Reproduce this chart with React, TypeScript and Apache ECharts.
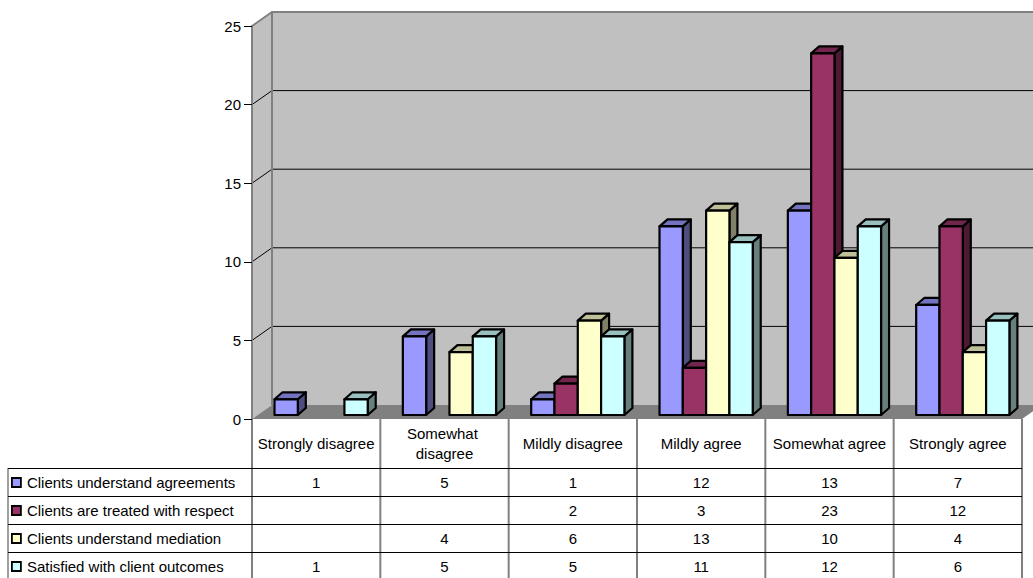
import React, { useEffect, useRef } from 'react';
import * as echarts from 'echarts';

const categories = ['Strongly disagree', 'Somewhat disagree', 'Mildly disagree', 'Mildly agree', 'Somewhat agree', 'Strongly agree'];
const seriesNames = ['Clients understand agreements', 'Clients are treated with respect', 'Clients understand mediation', 'Satisfied with client outcomes'];
const agreements = [1, 5, 1, 12, 13, 7];
const respect = [null, null, 2, 3, 23, 12];
const mediation = [null, 4, 6, 13, 10, 4];
const outcomes = [1, 5, 5, 11, 12, 6];
const seriesValues = [agreements, respect, mediation, outcomes];
const yTicks = [0, 5, 10, 15, 20, 25];
const colors = ['#9999FF', '#993366', '#FFFFCC', '#CCFFFF'];

const FONT = '"Liberation Sans", Arial, sans-serif';
const WALL_DX = 20;
const WALL_DY = -14;
const BAR_DX = 8;
const BAR_DY = -7;
const BAR_SHIFT_Y = -4;
const HEADER_H = 49;
const ROW_H = 28;
const TABLE_LEFT = 8;

function shade(hex: string, k: number) {
  const n = parseInt(hex.slice(1), 16);
  const r = Math.round(((n >> 16) & 255) * k);
  const g = Math.round(((n >> 8) & 255) * k);
  const b = Math.round((n & 255) * k);
  return `rgb(${r},${g},${b})`;
}

export default function App() {
  const ref = useRef<HTMLDivElement>(null);
  useEffect(() => {
    document.body.style.margin = '0';
    const chart = echarts.init(ref.current!, undefined, { renderer: 'svg' });

    const wallsSeries: any = {
      type: 'custom',
      name: '__walls',
      z: 0,
      silent: true,
      data: [[0, 0]],
      renderItem: (params: any, api: any) => {
        const cs = params.coordSys;
        const L = cs.x, T = cs.y, R = cs.x + cs.width, B = cs.y + cs.height;
        const children: any[] = [];
        children.push({ type: 'rect', shape: { x: L + WALL_DX, y: T + WALL_DY, width: cs.width + 40, height: cs.height }, style: { fill: '#C0C0C0' } });
        children.push({ type: 'polygon', shape: { points: [[L, B], [L, T], [L + WALL_DX, T + WALL_DY], [L + WALL_DX, B + WALL_DY]] }, style: { fill: '#C0C0C0' } });
        children.push({ type: 'polygon', shape: { points: [[L, B], [R, B], [R + WALL_DX, B + WALL_DY], [L + WALL_DX, B + WALL_DY]] }, style: { fill: '#808080' } });
        yTicks.forEach((v) => {
          if (v === 0 || v === yTicks[yTicks.length - 1]) return;
          const y = api.coord([0, v])[1];
          children.push({ type: 'line', shape: { x1: L, y1: y, x2: L + WALL_DX, y2: y + WALL_DY }, style: { stroke: '#000', lineWidth: 1 } });
          children.push({ type: 'line', shape: { x1: L + WALL_DX, y1: y + WALL_DY, x2: R + 60, y2: y + WALL_DY }, style: { stroke: '#000', lineWidth: 1 } });
        });
        children.push({ type: 'line', shape: { x1: L + WALL_DX, y1: T + WALL_DY, x2: L + WALL_DX, y2: B + WALL_DY }, style: { stroke: '#808080', lineWidth: 2 } });
        children.push({ type: 'polyline', shape: { points: [[L, T], [L + WALL_DX, T + WALL_DY], [R + 60, T + WALL_DY]] }, style: { stroke: '#808080', lineWidth: 2, fill: 'none' } });
        const tableBottom = B + HEADER_H + ROW_H * seriesNames.length + 10;
        const band = api.size([1, 0])[0];
        for (let i = 0; i <= categories.length; i++) {
          const x = L + i * band;
          children.push({ type: 'line', shape: { x1: x, y1: B, x2: x, y2: tableBottom }, style: { stroke: '#808080', lineWidth: 2 } });
        }
        children.push({ type: 'line', shape: { x1: TABLE_LEFT, y1: B + HEADER_H, x2: TABLE_LEFT, y2: tableBottom }, style: { stroke: '#808080', lineWidth: 1.5 } });
        for (let r = 0; r < seriesNames.length; r++) {
          const y = Math.round(B + HEADER_H + r * ROW_H) + 0.5;
          children.push({ type: 'line', shape: { x1: TABLE_LEFT, y1: y, x2: R, y2: y }, style: { stroke: '#000', lineWidth: 1 } });
        }
        return { type: 'group', children };
      },
    };

    const barSeries = seriesNames.map((name, s) => ({
      type: 'custom',
      name,
      z: 2,
      itemStyle: { color: colors[s] },
      data: seriesValues[s].map((v, i) => [i, v == null ? '-' : v]),
      renderItem: (params: any, api: any) => {
        const i = api.value(0);
        const v = api.value(1);
        const cs = params.coordSys;
        const B = cs.y + cs.height;
        const band = api.size([1, 0])[0];
        const cx = api.coord([i, 0])[0];
        const children: any[] = [];
        const textY = B + HEADER_H + s * ROW_H + ROW_H / 2;
        if (v == null || isNaN(v)) return { type: 'group', children };
        const w = band * 0.1816;
        const x0 = cx - band / 2 + band * 0.1754 + s * w;
        const x1 = x0 + w;
        const yb = api.coord([i, 0])[1] + BAR_SHIFT_Y;
        const yt = api.coord([i, v])[1] + BAR_SHIFT_Y;
        const col = colors[s];
        const stroke = { stroke: '#000', lineWidth: 2.2, lineJoin: 'round' };
        children.push({ type: 'polygon', shape: { points: [[x1, yt], [x1 + BAR_DX, yt + BAR_DY], [x1 + BAR_DX, yb + BAR_DY], [x1, yb]] }, style: { fill: shade(col, 0.5), ...stroke } });
        children.push({ type: 'polygon', shape: { points: [[x0, yt], [x1, yt], [x1 + BAR_DX, yt + BAR_DY], [x0 + BAR_DX, yt + BAR_DY]] }, style: { fill: shade(col, 0.75), ...stroke } });
        children.push({ type: 'rect', shape: { x: x0, y: yt, width: w, height: yb - yt }, style: { fill: col, ...stroke } });
        children.push({ type: 'text', style: { text: String(v), x: cx, y: textY, fill: '#000', font: `15px ${FONT}`, align: 'center', verticalAlign: 'middle' } });
        return { type: 'group', children };
      },
    }));

    chart.setOption({
      animation: false,
      textStyle: { fontFamily: FONT },
      grid: { left: 252, right: 11, top: 26, bottom: 159, containLabel: false },
      legend: {
        data: seriesNames,
        orient: 'vertical',
        left: 11,
        top: 474,
        padding: 0,
        itemWidth: 9,
        itemHeight: 9,
        itemGap: 11,
        icon: 'rect',
        itemStyle: { borderColor: '#000', borderWidth: 1.8 },
        textStyle: { fontSize: 15, lineHeight: 17, color: '#000', fontFamily: FONT, padding: [0, 0, 0, 1] },
        selectedMode: false,
      },
      xAxis: {
        type: 'category',
        data: categories,
        axisLine: { show: false },
        axisTick: { show: false },
        splitLine: { show: false },
        axisLabel: {
          interval: 0,
          fontSize: 15,
          color: '#000',
          width: 124,
          overflow: 'break',
          lineHeight: 20,
          verticalAlign: 'middle',
          margin: 24,
          fontFamily: FONT,
        },
      },
      yAxis: {
        type: 'value',
        min: 0,
        max: 25,
        interval: 5,
        z: 5,
        axisLine: { show: true, lineStyle: { color: '#808080', width: 2 } },
        axisTick: { show: true, length: 8, lineStyle: { color: '#000', width: 1 } },
        axisLabel: { fontSize: 15, color: '#000', margin: 11, fontFamily: FONT },
        splitLine: { show: false },
      },
      series: [wallsSeries, ...barSeries],
    });
    return () => chart.dispose();
  }, []);
  return <div ref={ref} style={{ width: 1033, height: 578, position: 'absolute', left: 0, top: 0, background: '#fff' }} />;
}
